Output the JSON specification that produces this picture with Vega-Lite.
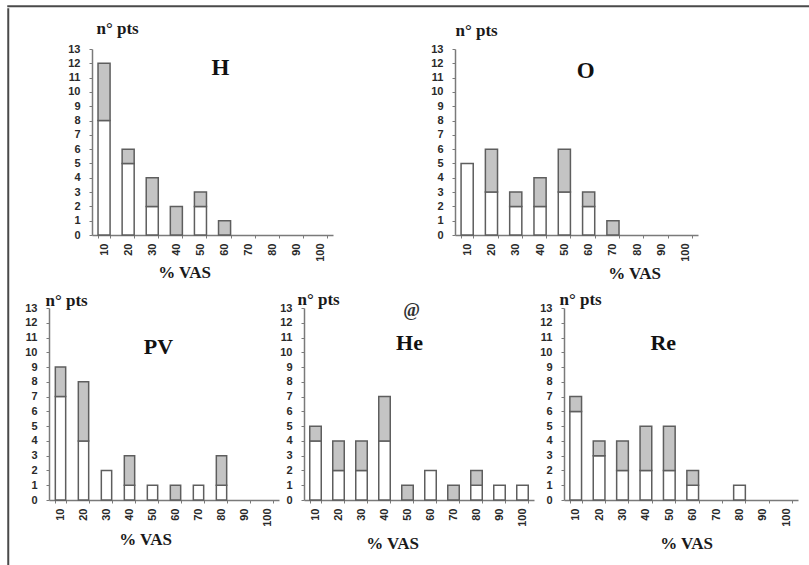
{
  "$schema": "https://vega.github.io/schema/vega-lite/v6.json",
  "background": "white",
  "padding": {"left": 7, "top": 5, "right": 2, "bottom": 0},
  "datasets": {
    "bars": [
      {"p": "H", "vas": 10, "part": "lower", "n": 8}, {"p": "H", "vas": 10, "part": "upper", "n": 4},
      {"p": "H", "vas": 20, "part": "lower", "n": 5}, {"p": "H", "vas": 20, "part": "upper", "n": 1},
      {"p": "H", "vas": 30, "part": "lower", "n": 2}, {"p": "H", "vas": 30, "part": "upper", "n": 2},
      {"p": "H", "vas": 40, "part": "upper", "n": 2},
      {"p": "H", "vas": 50, "part": "lower", "n": 2}, {"p": "H", "vas": 50, "part": "upper", "n": 1},
      {"p": "H", "vas": 60, "part": "upper", "n": 1},
      {"p": "O", "vas": 10, "part": "lower", "n": 5},
      {"p": "O", "vas": 20, "part": "lower", "n": 3}, {"p": "O", "vas": 20, "part": "upper", "n": 3},
      {"p": "O", "vas": 30, "part": "lower", "n": 2}, {"p": "O", "vas": 30, "part": "upper", "n": 1},
      {"p": "O", "vas": 40, "part": "lower", "n": 2}, {"p": "O", "vas": 40, "part": "upper", "n": 2},
      {"p": "O", "vas": 50, "part": "lower", "n": 3}, {"p": "O", "vas": 50, "part": "upper", "n": 3},
      {"p": "O", "vas": 60, "part": "lower", "n": 2}, {"p": "O", "vas": 60, "part": "upper", "n": 1},
      {"p": "O", "vas": 70, "part": "upper", "n": 1},
      {"p": "PV", "vas": 10, "part": "lower", "n": 7}, {"p": "PV", "vas": 10, "part": "upper", "n": 2},
      {"p": "PV", "vas": 20, "part": "lower", "n": 4}, {"p": "PV", "vas": 20, "part": "upper", "n": 4},
      {"p": "PV", "vas": 30, "part": "lower", "n": 2},
      {"p": "PV", "vas": 40, "part": "lower", "n": 1}, {"p": "PV", "vas": 40, "part": "upper", "n": 2},
      {"p": "PV", "vas": 50, "part": "lower", "n": 1},
      {"p": "PV", "vas": 60, "part": "upper", "n": 1},
      {"p": "PV", "vas": 70, "part": "lower", "n": 1},
      {"p": "PV", "vas": 80, "part": "lower", "n": 1}, {"p": "PV", "vas": 80, "part": "upper", "n": 2},
      {"p": "He", "vas": 10, "part": "lower", "n": 4}, {"p": "He", "vas": 10, "part": "upper", "n": 1},
      {"p": "He", "vas": 20, "part": "lower", "n": 2}, {"p": "He", "vas": 20, "part": "upper", "n": 2},
      {"p": "He", "vas": 30, "part": "lower", "n": 2}, {"p": "He", "vas": 30, "part": "upper", "n": 2},
      {"p": "He", "vas": 40, "part": "lower", "n": 4}, {"p": "He", "vas": 40, "part": "upper", "n": 3},
      {"p": "He", "vas": 50, "part": "upper", "n": 1},
      {"p": "He", "vas": 60, "part": "lower", "n": 2},
      {"p": "He", "vas": 70, "part": "upper", "n": 1},
      {"p": "He", "vas": 80, "part": "lower", "n": 1}, {"p": "He", "vas": 80, "part": "upper", "n": 1},
      {"p": "He", "vas": 90, "part": "lower", "n": 1},
      {"p": "He", "vas": 100, "part": "lower", "n": 1},
      {"p": "Re", "vas": 10, "part": "lower", "n": 6}, {"p": "Re", "vas": 10, "part": "upper", "n": 1},
      {"p": "Re", "vas": 20, "part": "lower", "n": 3}, {"p": "Re", "vas": 20, "part": "upper", "n": 1},
      {"p": "Re", "vas": 30, "part": "lower", "n": 2}, {"p": "Re", "vas": 30, "part": "upper", "n": 2},
      {"p": "Re", "vas": 40, "part": "lower", "n": 2}, {"p": "Re", "vas": 40, "part": "upper", "n": 3},
      {"p": "Re", "vas": 50, "part": "lower", "n": 2}, {"p": "Re", "vas": 50, "part": "upper", "n": 3},
      {"p": "Re", "vas": 60, "part": "lower", "n": 1}, {"p": "Re", "vas": 60, "part": "upper", "n": 1},
      {"p": "Re", "vas": 80, "part": "lower", "n": 1}
    ],
    "labels": [
      {"p": "H", "vas": 60, "n": 11.65, "label": "H"},
      {"p": "O", "vas": 60, "n": 11.47, "label": "O"},
      {"p": "PV", "vas": 50, "n": 10.33, "label": "PV"},
      {"p": "He", "vas": 50, "n": 10.63, "label": "He"},
      {"p": "He", "vas": 50, "n": 12.8, "label": "@"},
      {"p": "Re", "vas": 50, "n": 10.63, "label": "Re"}
    ]
  },
  "spacing": 0,
  "vconcat": [
    {"width": 802, "height": 0.5, "data": {"values": []}, "mark": {"type": "point", "opacity": 0}, "view": {"stroke": "#4a4a4a", "strokeWidth": 1.5}},
    {
      "spacing": 14,
      "hconcat": [
        {"width": 0.5, "height": 558, "data": {"values": []}, "mark": {"type": "point", "opacity": 0}, "view": {"stroke": "#4a4a4a", "strokeWidth": 1.5}},
        {
          "spacing": 9,
          "vconcat": [
            {"width": 1, "height": 1, "data": {"values": []}, "mark": {"type": "point", "opacity": 0}},
            {
              "spacing": 0,
              "hconcat": [
                {"width": 18, "height": 1, "data": {"values": []}, "mark": {"type": "point", "opacity": 0}},
                {
                  "width": 241, "height": 186,
                  "layer": [
                    {
                      "data": {"name": "bars"}, "transform": [{"filter": "datum.p === 'H'"}],
                      "mark": {"type": "bar", "stroke": "#5e5e5e", "strokeWidth": 1.5},
                      "encoding": {
                        "x": {"field": "vas", "type": "ordinal", "scale": {"domain": [10, 20, 30, 40, 50, 60, 70, 80, 90, 100], "paddingInner": 0.5, "paddingOuter": 0.25}, "axis": {"title": "% VAS", "titleX": 92, "titleY": 37}},
                        "y": {"field": "n", "type": "quantitative", "stack": "zero", "scale": {"domain": [0, 13], "nice": false}, "axis": {"values": [0, 1, 2, 3, 4, 5, 6, 7, 8, 9, 10, 11, 12, 13], "labelOverlap": false, "labelBound": false, "title": "n° pts", "titleX": 4, "titleY": -16}},
                        "color": {"field": "part", "type": "nominal", "scale": {"domain": ["lower", "upper"], "range": ["#ffffff", "#c4c4c4"]}, "legend": null},
                        "order": {"field": "part", "sort": "ascending"}
                      }
                    },
                    {
                      "data": {"name": "labels"}, "transform": [{"filter": "datum.p === 'H'"}],
                      "mark": {"type": "text", "font": "Liberation Serif", "fontWeight": "bold", "fontSize": 23, "dx": -4, "baseline": "middle", "color": "#111"},
                      "encoding": {
                        "x": {"field": "vas", "type": "ordinal", "scale": {"domain": [10, 20, 30, 40, 50, 60, 70, 80, 90, 100], "paddingInner": 0.5, "paddingOuter": 0.25}, "axis": {"title": "% VAS", "titleX": 92, "titleY": 37}},
                        "y": {"field": "n", "type": "quantitative", "scale": {"domain": [0, 13], "nice": false}, "axis": {"values": [0, 1, 2, 3, 4, 5, 6, 7, 8, 9, 10, 11, 12, 13], "labelOverlap": false, "labelBound": false, "title": "n° pts", "titleX": 4, "titleY": -16}},
                        "text": {"field": "label"}
                      }
                    }
                  ]
                },
                {"width": 97, "height": 1, "data": {"values": []}, "mark": {"type": "point", "opacity": 0}},
                {
                  "width": 243, "height": 186,
                  "layer": [
                    {
                      "data": {"name": "bars"}, "transform": [{"filter": "datum.p === 'O'"}],
                      "mark": {"type": "bar", "stroke": "#5e5e5e", "strokeWidth": 1.5},
                      "encoding": {
                        "x": {"field": "vas", "type": "ordinal", "scale": {"domain": [10, 20, 30, 40, 50, 60, 70, 80, 90, 100], "paddingInner": 0.5, "paddingOuter": 0.25}, "axis": {"title": "% VAS", "titleX": 179, "titleY": 38}},
                        "y": {"field": "n", "type": "quantitative", "stack": "zero", "scale": {"domain": [0, 13], "nice": false}, "axis": {"values": [0, 1, 2, 3, 4, 5, 6, 7, 8, 9, 10, 11, 12, 13], "labelOverlap": false, "labelBound": false, "title": "n° pts", "titleX": 0, "titleY": -14}},
                        "color": {"field": "part", "type": "nominal", "scale": {"domain": ["lower", "upper"], "range": ["#ffffff", "#c4c4c4"]}, "legend": null},
                        "order": {"field": "part", "sort": "ascending"}
                      }
                    },
                    {
                      "data": {"name": "labels"}, "transform": [{"filter": "datum.p === 'O'"}],
                      "mark": {"type": "text", "font": "Liberation Serif", "fontWeight": "bold", "fontSize": 23, "dx": -3, "baseline": "middle", "color": "#111"},
                      "encoding": {
                        "x": {"field": "vas", "type": "ordinal", "scale": {"domain": [10, 20, 30, 40, 50, 60, 70, 80, 90, 100], "paddingInner": 0.5, "paddingOuter": 0.25}, "axis": {"title": "% VAS", "titleX": 179, "titleY": 38}},
                        "y": {"field": "n", "type": "quantitative", "scale": {"domain": [0, 13], "nice": false}, "axis": {"values": [0, 1, 2, 3, 4, 5, 6, 7, 8, 9, 10, 11, 12, 13], "labelOverlap": false, "labelBound": false, "title": "n° pts", "titleX": 0, "titleY": -14}},
                        "text": {"field": "label"}
                      }
                    }
                  ]
                }
              ]
            },
            {
              "spacing": 0,
              "hconcat": [
                {
                  "width": 230, "height": 192,
                  "layer": [
                    {
                      "data": {"name": "bars"}, "transform": [{"filter": "datum.p === 'PV'"}],
                      "mark": {"type": "bar", "stroke": "#5e5e5e", "strokeWidth": 1.5},
                      "encoding": {
                        "x": {"field": "vas", "type": "ordinal", "scale": {"domain": [10, 20, 30, 40, 50, 60, 70, 80, 90, 100], "paddingInner": 0.55, "paddingOuter": 0.275}, "axis": {"title": "%  VAS", "titleX": 96, "titleY": 39}},
                        "y": {"field": "n", "type": "quantitative", "stack": "zero", "scale": {"domain": [0, 13], "nice": false}, "axis": {"values": [0, 1, 2, 3, 4, 5, 6, 7, 8, 9, 10, 11, 12, 13], "labelOverlap": false, "labelBound": false, "title": "n° pts", "titleX": -4, "titleY": -3}},
                        "color": {"field": "part", "type": "nominal", "scale": {"domain": ["lower", "upper"], "range": ["#ffffff", "#c4c4c4"]}, "legend": null},
                        "order": {"field": "part", "sort": "ascending"}
                      }
                    },
                    {
                      "data": {"name": "labels"}, "transform": [{"filter": "datum.p === 'PV'"}],
                      "mark": {"type": "text", "font": "Liberation Serif", "fontWeight": "bold", "fontSize": 22, "dx": 6, "baseline": "middle", "color": "#111"},
                      "encoding": {
                        "x": {"field": "vas", "type": "ordinal", "scale": {"domain": [10, 20, 30, 40, 50, 60, 70, 80, 90, 100], "paddingInner": 0.55, "paddingOuter": 0.275}, "axis": {"title": "%  VAS", "titleX": 96, "titleY": 39}},
                        "y": {"field": "n", "type": "quantitative", "scale": {"domain": [0, 13], "nice": false}, "axis": {"values": [0, 1, 2, 3, 4, 5, 6, 7, 8, 9, 10, 11, 12, 13], "labelOverlap": false, "labelBound": false, "title": "n° pts", "titleX": -4, "titleY": -3}},
                        "text": {"field": "label"}
                      }
                    }
                  ]
                },
                {
                  "width": 230, "height": 192,
                  "layer": [
                    {
                      "data": {"name": "bars"}, "transform": [{"filter": "datum.p === 'He'"}],
                      "mark": {"type": "bar", "stroke": "#5e5e5e", "strokeWidth": 1.5},
                      "encoding": {
                        "x": {"field": "vas", "type": "ordinal", "scale": {"domain": [10, 20, 30, 40, 50, 60, 70, 80, 90, 100], "paddingInner": 0.5, "paddingOuter": 0.25}, "axis": {"title": "%  VAS", "titleX": 88, "titleY": 43}},
                        "y": {"field": "n", "type": "quantitative", "stack": "zero", "scale": {"domain": [0, 13], "nice": false}, "axis": {"values": [0, 1, 2, 3, 4, 5, 6, 7, 8, 9, 10, 11, 12, 13], "labelOverlap": false, "labelBound": false, "title": "n° pts", "titleX": -7, "titleY": -4}},
                        "color": {"field": "part", "type": "nominal", "scale": {"domain": ["lower", "upper"], "range": ["#ffffff", "#c4c4c4"]}, "legend": null},
                        "order": {"field": "part", "sort": "ascending"}
                      }
                    },
                    {
                      "data": {"name": "labels"}, "transform": [{"filter": "datum.p === 'He' && datum.label !== '@'"}],
                      "mark": {"type": "text", "font": "Liberation Serif", "fontWeight": "bold", "fontSize": 22, "dx": 2, "baseline": "middle", "color": "#111"},
                      "encoding": {
                        "x": {"field": "vas", "type": "ordinal", "scale": {"domain": [10, 20, 30, 40, 50, 60, 70, 80, 90, 100], "paddingInner": 0.5, "paddingOuter": 0.25}, "axis": {"title": "%  VAS", "titleX": 88, "titleY": 43}},
                        "y": {"field": "n", "type": "quantitative", "scale": {"domain": [0, 13], "nice": false}, "axis": {"values": [0, 1, 2, 3, 4, 5, 6, 7, 8, 9, 10, 11, 12, 13], "labelOverlap": false, "labelBound": false, "title": "n° pts", "titleX": -7, "titleY": -4}},
                        "text": {"field": "label"}
                      }
                    },
                    {
                      "data": {"name": "labels"}, "transform": [{"filter": "datum.p === 'He' && datum.label === '@'"}],
                      "mark": {"type": "text", "font": "Liberation Serif", "fontWeight": "bold", "fontSize": 18, "dx": 4, "baseline": "middle", "color": "#333"},
                      "encoding": {
                        "x": {"field": "vas", "type": "ordinal", "scale": {"domain": [10, 20, 30, 40, 50, 60, 70, 80, 90, 100], "paddingInner": 0.5, "paddingOuter": 0.25}, "axis": {"title": "%  VAS", "titleX": 88, "titleY": 43}},
                        "y": {"field": "n", "type": "quantitative", "scale": {"domain": [0, 13], "nice": false}, "axis": {"values": [0, 1, 2, 3, 4, 5, 6, 7, 8, 9, 10, 11, 12, 13], "labelOverlap": false, "labelBound": false, "title": "n° pts", "titleX": -7, "titleY": -4}},
                        "text": {"field": "label"}
                      }
                    }
                  ]
                },
                {"width": 5, "height": 1, "data": {"values": []}, "mark": {"type": "point", "opacity": 0}},
                {
                  "width": 234, "height": 192,
                  "layer": [
                    {
                      "data": {"name": "bars"}, "transform": [{"filter": "datum.p === 'Re'"}],
                      "mark": {"type": "bar", "stroke": "#5e5e5e", "strokeWidth": 1.5},
                      "encoding": {
                        "x": {"field": "vas", "type": "ordinal", "scale": {"domain": [10, 20, 30, 40, 50, 60, 70, 80, 90, 100], "paddingInner": 0.5, "paddingOuter": 0.25}, "axis": {"title": "%  VAS", "titleX": 122, "titleY": 43}},
                        "y": {"field": "n", "type": "quantitative", "stack": "zero", "scale": {"domain": [0, 13], "nice": false}, "axis": {"values": [0, 1, 2, 3, 4, 5, 6, 7, 8, 9, 10, 11, 12, 13], "labelOverlap": false, "labelBound": false, "title": "n° pts", "titleX": -5, "titleY": -4}},
                        "color": {"field": "part", "type": "nominal", "scale": {"domain": ["lower", "upper"], "range": ["#ffffff", "#c4c4c4"]}, "legend": null},
                        "order": {"field": "part", "sort": "ascending"}
                      }
                    },
                    {
                      "data": {"name": "labels"}, "transform": [{"filter": "datum.p === 'Re'"}],
                      "mark": {"type": "text", "font": "Liberation Serif", "fontWeight": "bold", "fontSize": 22, "dx": -6, "baseline": "middle", "color": "#111"},
                      "encoding": {
                        "x": {"field": "vas", "type": "ordinal", "scale": {"domain": [10, 20, 30, 40, 50, 60, 70, 80, 90, 100], "paddingInner": 0.5, "paddingOuter": 0.25}, "axis": {"title": "%  VAS", "titleX": 122, "titleY": 43}},
                        "y": {"field": "n", "type": "quantitative", "scale": {"domain": [0, 13], "nice": false}, "axis": {"values": [0, 1, 2, 3, 4, 5, 6, 7, 8, 9, 10, 11, 12, 13], "labelOverlap": false, "labelBound": false, "title": "n° pts", "titleX": -5, "titleY": -4}},
                        "text": {"field": "label"}
                      }
                    }
                  ]
                }
              ]
            }
          ]
        }
      ]
    }
  ],
  "config": {
    "view": {"stroke": null},
    "style": {"guide-title": {"font": "Liberation Serif", "fontWeight": "bold", "fontSize": 17}},
    "axis": {
      "grid": false,
      "domainColor": "#7a7a7a",
      "domainWidth": 1.5,
      "tickColor": "#7a7a7a",
      "tickSize": 3,
      "labelFont": "Liberation Sans",
      "labelFontWeight": "bold",
      "labelFontSize": 11,
      "labelColor": "#2a2a2a",
      "titleFont": "Liberation Serif",
      "titleFontWeight": "bold",
      "titleFontSize": 17,
      "titleColor": "#1a1a1a"
    },
    "axisX": {"labelAngle": 270, "labelPadding": 5, "tickBand": "extent", "titleAlign": "center", "titleBaseline": "middle"},
    "axisY": {"labelPadding": 9, "labelOverlap": false, "titleAngle": 0, "titleAlign": "left", "titleBaseline": "alphabetic"}
  }
}
